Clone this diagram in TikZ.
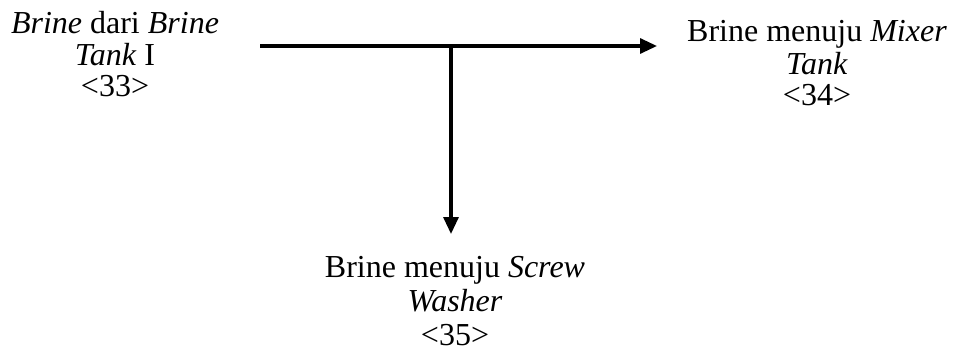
\documentclass[tikz,border=0pt]{standalone}
\usepackage{fontspec}
\setmainfont{Liberation Serif}
\usetikzlibrary{arrows.meta}
\tikzset{
  label text/.style={align=center, inner sep=0pt, anchor=base,
    font=\fontsize{32}{33}\selectfont},
  flow/.style={line width=3.2pt, -{Triangle[length=17pt,width=15pt]}}
}
\begin{document}
\begin{tikzpicture}[x=1pt,y=-1pt]
  \useasboundingbox (0,0) rectangle (954,353);
  % source and destinations (anchored on the baseline of the last line)
  \node[label text, font=\fontsize{32}{32}\selectfont] (src) at (115,97) {\textit{Brine} dari \textit{Brine}\\\textit{Tank} I\\<33>};
  \node[label text, font=\fontsize{32}{32}\selectfont] (mix) at (817,106) {Brine menuju \textit{Mixer}\\\textit{Tank}\\<34>};
  \node[label text, font=\fontsize{32}{34}\selectfont] (scw) at (455,345) {Brine menuju \textit{Screw}\\\textit{Washer}\\<35>};
  % main line and branch
  \coordinate (start) at (260,46);
  \coordinate (split) at (451,46);
  \coordinate (tipmix) at (657,46);
  \coordinate (tipscw) at (451,234);
  \draw[flow] (start) -- (tipmix);
  \draw[flow] (split) -- (tipscw);
\end{tikzpicture}
\end{document}
